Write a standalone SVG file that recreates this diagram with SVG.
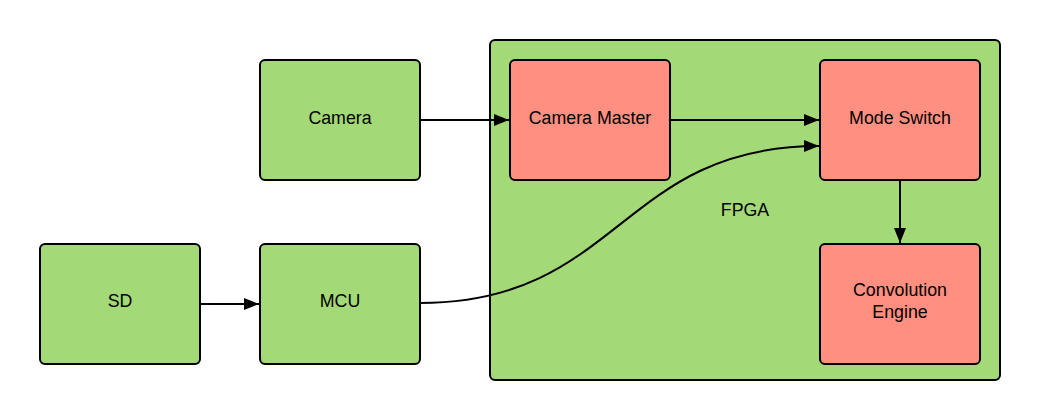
<svg xmlns="http://www.w3.org/2000/svg" width="1040" height="420" viewBox="0 0 1040 420">
<style>
.g{fill:#a3d977;stroke:#000;stroke-width:2}
.r{fill:#ff8f80;stroke:#000;stroke-width:2}
.t{font-family:"Liberation Sans",Arial,sans-serif;font-size:17.8px;fill:#000;text-anchor:middle}
.c{fill:none;stroke:#000;stroke-width:2}
</style>
<defs>
<marker id="ah" markerUnits="userSpaceOnUse" markerWidth="16" markerHeight="12" refX="15" refY="6" orient="auto">
<path d="M0,0 L15,6 L0,12 Z" fill="#000"/>
</marker>
</defs>
<rect width="1040" height="420" fill="#fff"/>
<g id="fpga"><rect class="g" x="490" y="40" width="510" height="340" rx="5"/><text class="t" x="745" y="216">FPGA</text></g>
<g id="camera"><rect class="g" x="260" y="60" width="160" height="120" rx="5"/><text class="t" x="340" y="123.5">Camera</text></g>
<g id="sd"><rect class="g" x="40" y="244" width="160" height="120" rx="5"/><text class="t" x="120" y="307">SD</text></g>
<g id="mcu"><rect class="g" x="260" y="244" width="160" height="120" rx="5"/><text class="t" x="340" y="307">MCU</text></g>
<g id="camera-master"><rect class="r" x="510" y="60" width="160" height="120" rx="5"/><text class="t" x="590" y="123.5">Camera Master</text></g>
<g id="mode-switch"><rect class="r" x="820" y="60" width="160" height="120" rx="5"/><text class="t" x="900" y="123.5">Mode Switch</text></g>
<g id="convolution-engine"><rect class="r" x="820" y="244" width="160" height="120" rx="5"/><text class="t" x="900" y="296">Convolution</text><text class="t" x="900" y="317.5">Engine</text></g>
<g id="connectors">
<path class="c" d="M420,120 L509,120" marker-end="url(#ah)"/>
<path class="c" d="M670,120 L819,120" marker-end="url(#ah)"/>
<path class="c" d="M200,304 L259,304" marker-end="url(#ah)"/>
<path class="c" d="M900,180 L900,243" marker-end="url(#ah)"/>
<path class="c" d="M420,303 C620,303 620,146 819,146" marker-end="url(#ah)"/>
</g>
</svg>
